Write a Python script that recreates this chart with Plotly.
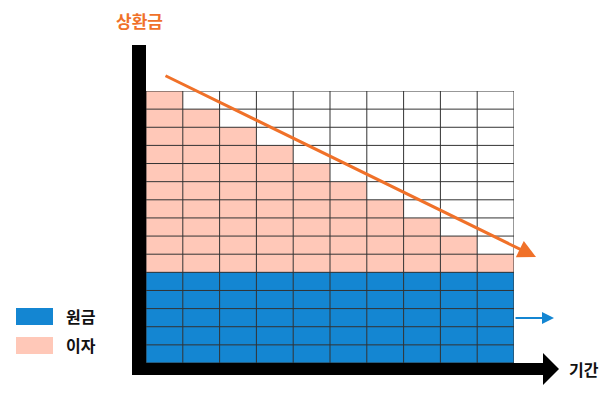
import plotly.graph_objects as go

# ---- data ----
periods = list(range(1, 11))
principal = [5, 5, 5, 5, 5, 5, 5, 5, 5, 5]
interest = [10, 9, 8, 7, 6, 5, 4, 3, 2, 1]
series_names = ["원금", "이자"]
y_title = "상환금"
x_title = "기간"

BLUE = "#1486D2"
PINK = "#FFC8B8"
ORANGE = "#F07129"
FONT = "Noto Sans CJK KR"

W, H = 614, 393
L, R, T, B = 146, 514, 91, 363  # plot area in pixels

def px(xp):
    return (xp - L) / (R - L)

def py(yp):
    return (B - yp) / (B - T)

n_cols = len(periods)
n_rows = max(p + i for p, i in zip(principal, interest))

fig = go.Figure()
fig.add_trace(go.Bar(x=periods, y=principal, name=series_names[0],
                     marker=dict(color=BLUE, line=dict(width=0)), width=1))
fig.add_trace(go.Bar(x=periods, y=interest, name=series_names[1],
                     marker=dict(color=PINK, line=dict(width=0)), width=1))

shapes = []
# grid
for i in range(n_cols + 1):
    shapes.append(dict(type="line", xref="x", yref="y", x0=0.5 + i, x1=0.5 + i,
                       y0=0, y1=n_rows, line=dict(color="#333333", width=1), layer="above"))
for j in range(n_rows + 1):
    shapes.append(dict(type="line", xref="x", yref="y", x0=0.5, x1=n_cols + 0.5,
                       y0=j, y1=j, line=dict(color="#333333", width=1), layer="above"))
# thick axes
shapes.append(dict(type="rect", xref="paper", yref="paper", x0=px(132), x1=px(146),
                   y0=py(375), y1=py(45), fillcolor="black", line=dict(width=0), layer="above"))
shapes.append(dict(type="rect", xref="paper", yref="paper", x0=px(132), x1=px(544),
                   y0=py(375), y1=py(363), fillcolor="black", line=dict(width=0), layer="above"))
shapes.append(dict(type="path", xref="paper", yref="paper",
                   path=f"M {px(543)} {py(353)} L {px(559)} {py(369)} L {px(543)} {py(385)} Z",
                   fillcolor="black", line=dict(width=0), layer="above"))
# legend swatches
shapes.append(dict(type="rect", xref="paper", yref="paper", x0=px(16), x1=px(53),
                   y0=py(325), y1=py(308), fillcolor=BLUE, line=dict(width=0)))
shapes.append(dict(type="rect", xref="paper", yref="paper", x0=px(16), x1=px(53),
                   y0=py(354), y1=py(337), fillcolor=PINK, line=dict(width=0)))

def label(xp, yp, text, size, color, xanchor="center"):
    return dict(xref="paper", yref="paper", x=px(xp), y=py(yp), text=f"<b>{text}</b>",
                xanchor=xanchor, yanchor="middle", showarrow=False,
                font=dict(family=FONT, size=size, color=color))

annotations = [
    label(139, 20, y_title, 17, ORANGE),
    label(584, 369, x_title, 16, "#111"),
    label(64, 316, series_names[0], 16, "#111", "left"),
    label(64, 345, series_names[1], 16, "#111", "left"),
    # orange trend arrow
    dict(xref="paper", yref="paper", x=px(536), y=py(257), axref="pixel", ayref="pixel",
         ax=164 - 536, ay=75 - 257, text="", showarrow=True, arrowhead=2, arrowsize=1.2,
         arrowwidth=3, arrowcolor=ORANGE),
    # blue flat arrow
    dict(xref="paper", yref="paper", x=px(554), y=py(318), axref="pixel", ayref="pixel",
         ax=514 - 554, ay=0, text="", showarrow=True, arrowhead=2, arrowsize=1.2,
         arrowwidth=2, arrowcolor=BLUE),
]

fig.update_layout(
    width=W, height=H, barmode="stack", bargap=0,
    margin=dict(l=L, r=W - R, t=T, b=H - B, pad=0),
    paper_bgcolor="white", plot_bgcolor="white",
    showlegend=False,
    xaxis=dict(range=[0.5, n_cols + 0.5], visible=False, fixedrange=True),
    yaxis=dict(range=[0, n_rows], visible=False, fixedrange=True),
    shapes=shapes, annotations=annotations,
)

fig.write_html("out.html", config={"displayModeBar": False})
